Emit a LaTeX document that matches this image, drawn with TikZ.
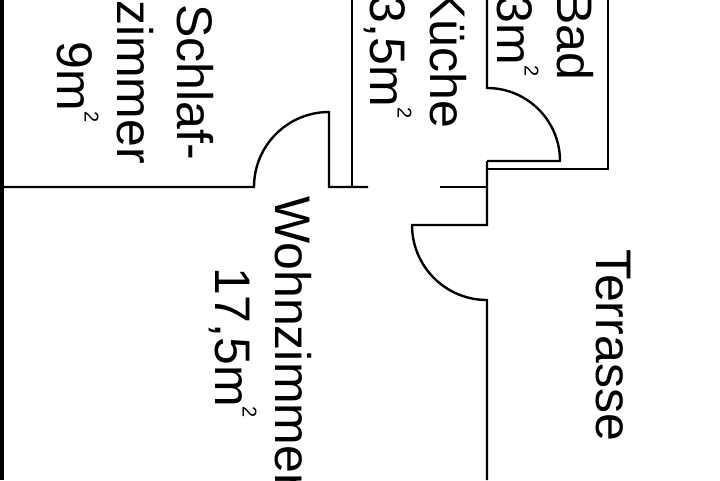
\documentclass[tikz,border=0pt]{standalone}
\usepackage{fontspec}
\setmainfont{Liberation Sans}
\newcommand{\sqm}{m\raisebox{0.55em}{\fontsize{20}{20}\selectfont 2}}
\begin{document}
\begin{tikzpicture}[x=1pt,y=-1pt,
  wall/.style={line width=2.4pt,line cap=butt,line join=miter},
  room/.style={rotate=-90,align=center,font=\fontsize{50}{60}\selectfont,inner sep=0pt}]
\useasboundingbox (0,0) rectangle (720,480);
\fill[white] (0,0) rectangle (720,480);
% left outer wall
\draw[line width=4pt] (2,0) -- (2,480);
% Schlafzimmer / Wohnzimmer wall with door
\draw[wall] (0,187) -- (254,187) arc[start angle=180,end angle=270,radius=75] -- (329,187) -- (368,187);
% Kueche left wall
\draw[wall] (352,0) -- (352,187);
% short wall stub
\draw[wall] (440,187) -- (487,187);
% Kueche/Bad wall with door
\draw[wall] (487,0) -- (487,88) arc[start angle=270,end angle=360,radius=73] -- (487,161);
\draw[wall] (608,0) -- (608,169) -- (487,169);
\draw[wall] (487,161) -- (487,225) -- (412,225) arc[start angle=180,end angle=90,radius=75] -- (487,480);
% labels
\node[room] (schlaf) at (135,82) {Schlaf-\\zimmer\\9\sqm};
\node[room] (kueche) at (415,57) {Küche\\3,5\sqm};
\node[room] (bad) at (545,36) {Bad\\3\sqm};
\node[room] (wohn) at (260,343) {Wohnzimmer\\17,5\sqm};
\node[room] (terr) at (613,345) {Terrasse};
\end{tikzpicture}
\end{document}
